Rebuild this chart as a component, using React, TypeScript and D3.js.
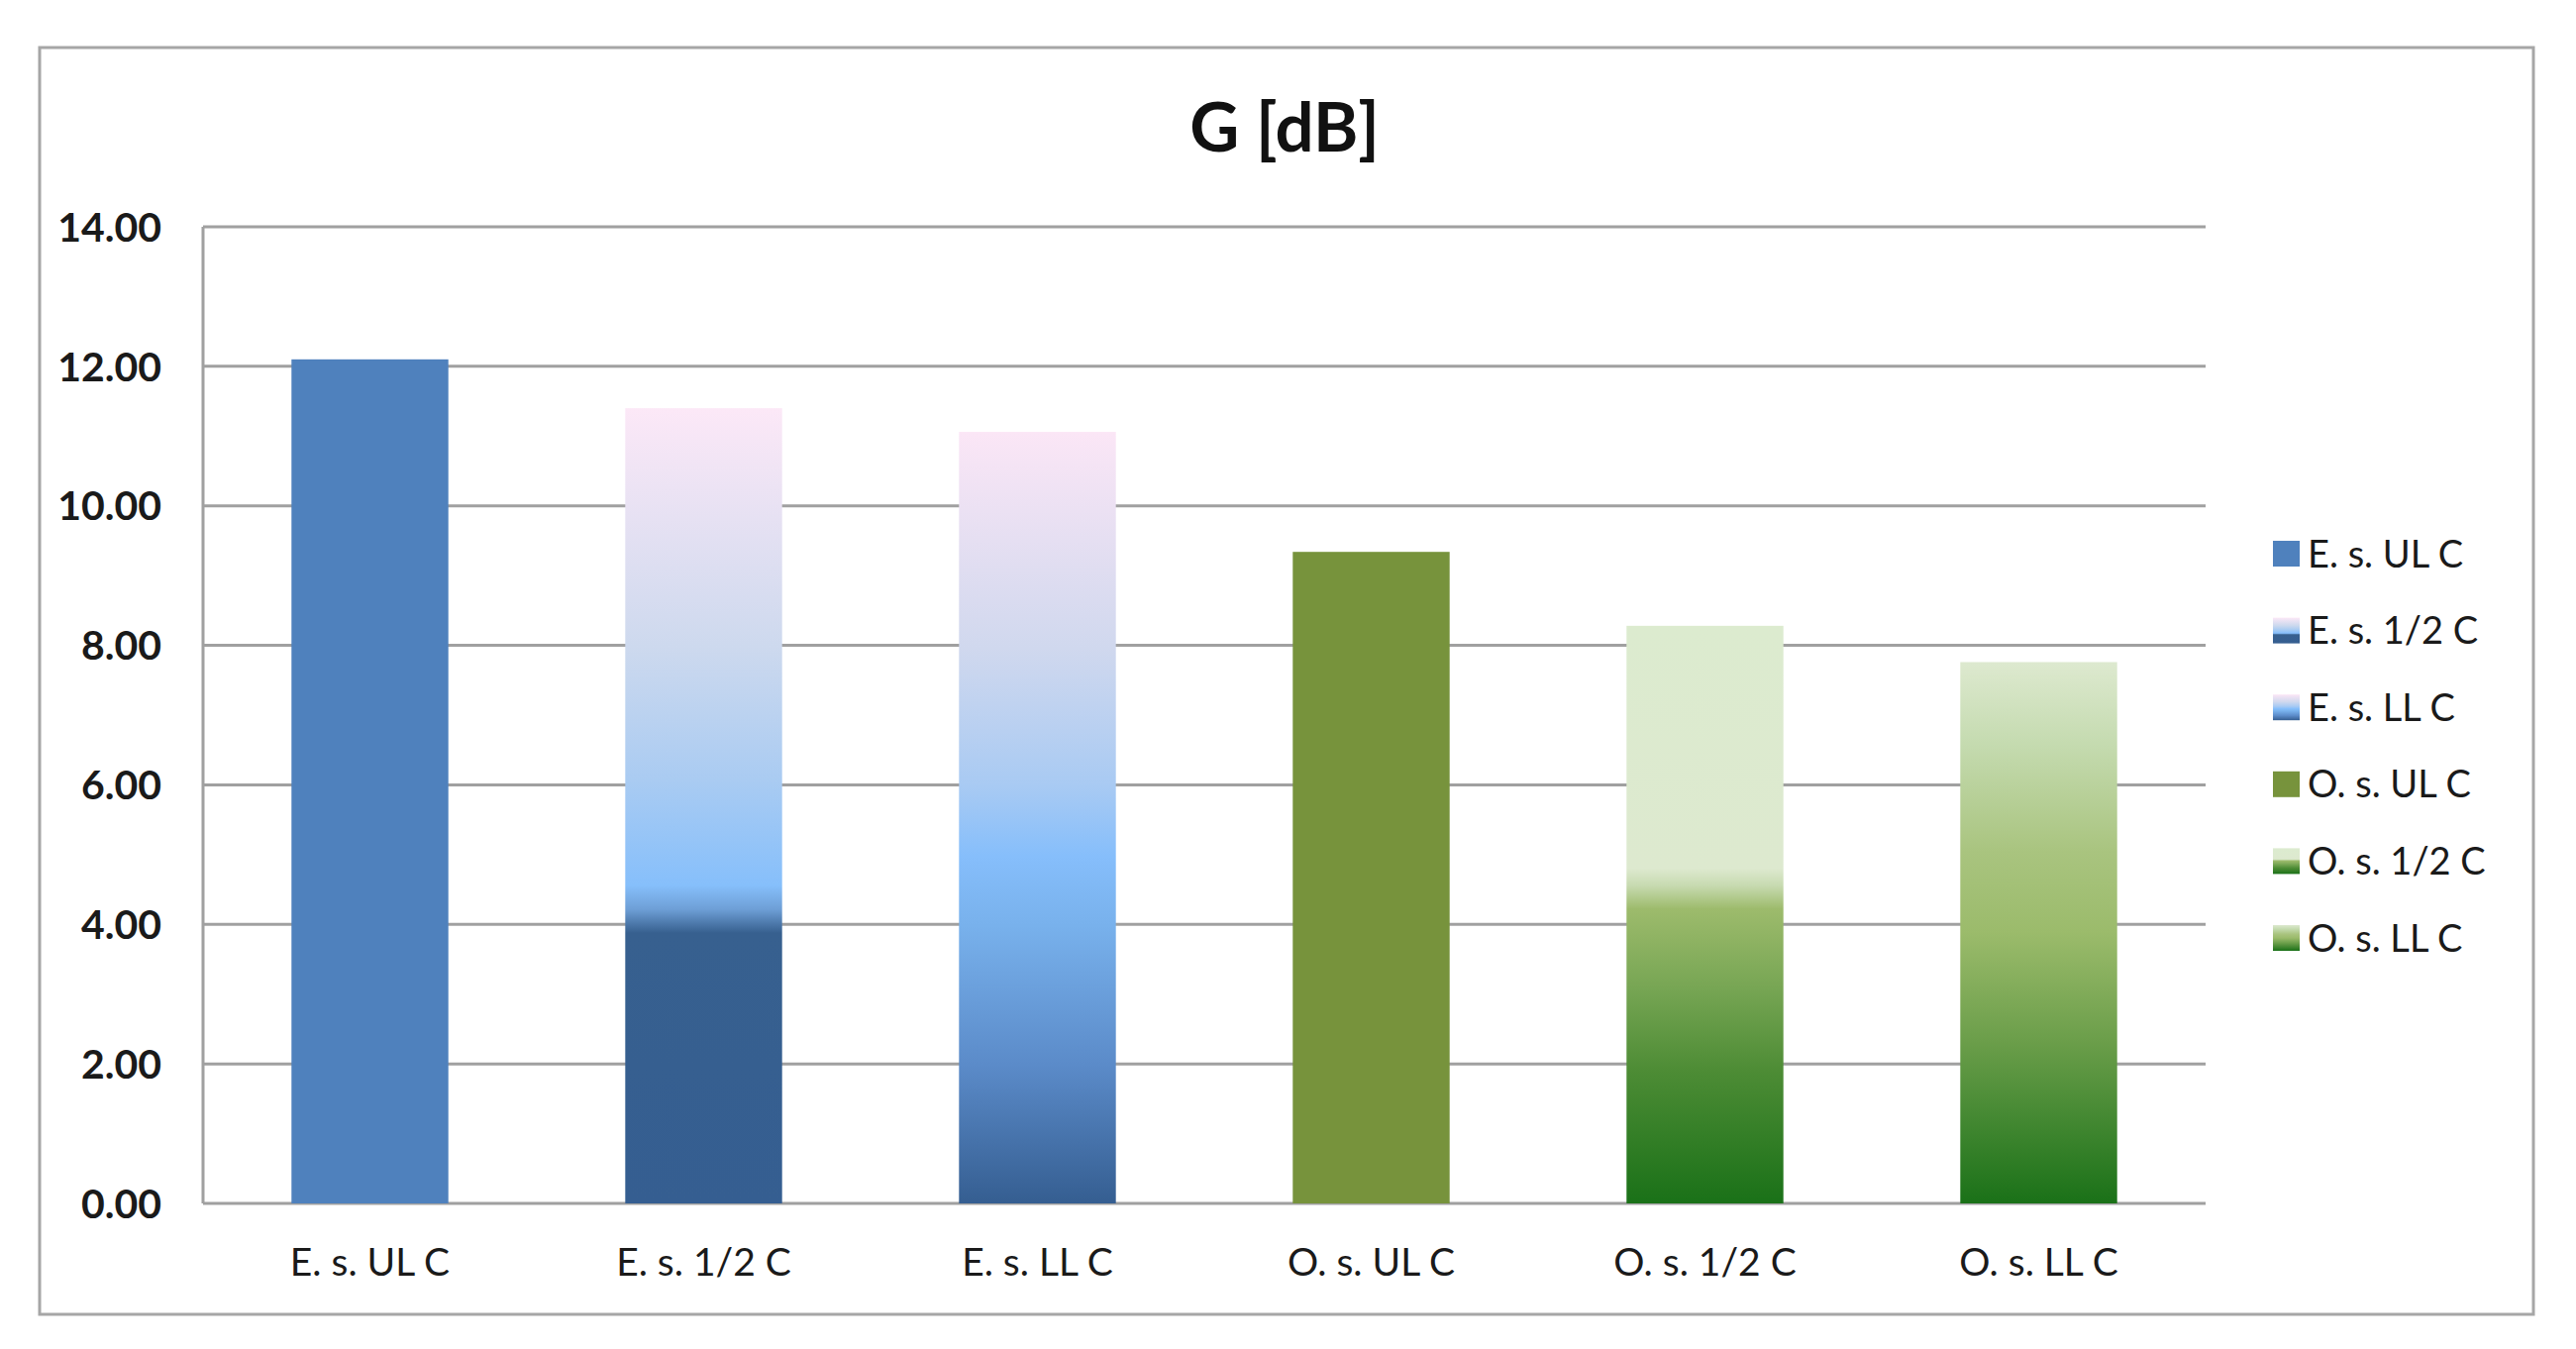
import { useEffect, useRef } from 'react';
import * as d3 from 'd3';

const categories = ['E. s. UL C', 'E. s. 1/2 C', 'E. s. LL C', 'O. s. UL C', 'O. s. 1/2 C', 'O. s. LL C'];
const gainDb = [12.1, 11.4, 11.06, 9.34, 8.28, 7.76];
const yTicks = [0, 2, 4, 6, 8, 10, 12, 14];

// fill per series: [offset, colour] stops, top -> bottom
const fills: [number, string][][] = [
  [[0, '#4f81bd'], [1, '#4f81bd']],
  [[0, '#fce8f7'], [0.3, '#cdd9ee'], [0.47, '#a9cbf2'], [0.6, '#86bffb'], [0.63, '#6e9fd6'], [0.66, '#37608f'], [1, '#355e91']],
  [[0, '#fbe6f6'], [0.28, '#d0d8ee'], [0.46, '#a8caf3'], [0.55, '#86befb'], [0.64, '#78b1ec'], [0.82, '#5b8bc9'], [1, '#355e91']],
  [[0, '#77933c'], [1, '#77933c']],
  [[0, '#dcebcf'], [0.42, '#dde9cf'], [0.45, '#c7dab0'], [0.49, '#9dbb6c'], [0.63, '#76a553'], [0.77, '#4d8c35'], [1, '#1a7118']],
  [[0, '#dde9cf'], [0.15, '#c5dbb0'], [0.35, '#a9c47f'], [0.5, '#9bbb6b'], [0.7, '#6b9e4a'], [1, '#1a7118']],
];

const W = 2601;
const H = 1362;
const FONT = 'Lato, "Open Sans", sans-serif';

export default function App() {
  const svgRef = useRef<SVGSVGElement>(null);

  useEffect(() => {
    if (!svgRef.current) return;
    const svg = d3.select(svgRef.current);
    svg.selectAll('*').remove();

    const plot = { left: 205, right: 2227, top: 229, bottom: 1215 };

    const x = d3.scaleBand<string>()
      .domain(categories)
      .range([plot.left, plot.right])
      .paddingInner(0.53)
      .paddingOuter(0.265);

    const y = d3.scaleLinear().domain([0, 14]).range([plot.bottom, plot.top]);

    const defs = svg.append('defs');
    fills.forEach((stops, i) => {
      const grad = defs.append('linearGradient')
        .attr('id', `fill-${i}`)
        .attr('x1', 0).attr('y1', 0).attr('x2', 0).attr('y2', 1);
      stops.forEach(([o, c]) => {
        grad.append('stop').attr('offset', o).attr('stop-color', c);
      });
    });

    svg.append('rect')
      .attr('width', W).attr('height', H)
      .attr('fill', '#fff');

    // chart border
    svg.append('rect')
      .attr('x', 40).attr('y', 48)
      .attr('width', 2558 - 40).attr('height', 1327 - 48)
      .attr('fill', '#fff')
      .attr('stroke', '#a6a6a6')
      .attr('stroke-width', 3);

    // Title
    svg.append('text')
      .attr('x', 1297)
      .attr('y', 153)
      .attr('text-anchor', 'middle')
      .attr('font-family', FONT)
      .attr('font-size', 69)
      .attr('font-weight', 700)
      .attr('fill', '#111')
      .text('G [dB]');

    // gridlines
    svg.append('g')
      .selectAll('line')
      .data(yTicks)
      .join('line')
      .attr('x1', plot.left)
      .attr('x2', plot.right)
      .attr('y1', d => y(d))
      .attr('y2', d => y(d))
      .attr('stroke', '#a0a0a0')
      .attr('stroke-width', 3);

    // y axis line
    svg.append('line')
      .attr('x1', plot.left).attr('x2', plot.left)
      .attr('y1', plot.top).attr('y2', plot.bottom)
      .attr('stroke', '#a0a0a0')
      .attr('stroke-width', 3);

    // y tick labels
    svg.append('g')
      .selectAll('text')
      .data(yTicks)
      .join('text')
      .attr('x', 163)
      .attr('y', d => y(d))
      .attr('dy', '0.36em')
      .attr('text-anchor', 'end')
      .attr('font-family', FONT)
      .attr('font-size', 41)
      .attr('font-weight', 700)
      .attr('fill', '#1a1a1a')
      .text(d => d3.format('.2f')(d));

    // bars
    svg.append('g')
      .selectAll('rect')
      .data(gainDb)
      .join('rect')
      .attr('x', (_, i) => x(categories[i]) || 0)
      .attr('y', d => y(d))
      .attr('width', x.bandwidth())
      .attr('height', d => y(0) - y(d))
      .attr('fill', (_, i) => `url(#fill-${i})`);

    // x labels
    svg.append('g')
      .selectAll('text')
      .data(categories)
      .join('text')
      .attr('x', d => (x(d) || 0) + x.bandwidth() / 2)
      .attr('y', 1288)
      .attr('text-anchor', 'middle')
      .attr('font-family', FONT)
      .attr('font-size', 39)
      .attr('fill', '#1a1a1a')
      .text(d => d);

    // legend
    const legend = svg.append('g');
    const item = legend.selectAll('g')
      .data(categories)
      .join('g')
      .attr('transform', (_, i) => `translate(2295, ${559 + i * 77.6})`);

    item.append('rect')
      .attr('x', 0).attr('y', -13)
      .attr('width', 27).attr('height', 26)
      .attr('fill', (_, i) => `url(#fill-${i})`);

    item.append('text')
      .attr('x', 35)
      .attr('y', 0)
      .attr('dy', '0.36em')
      .attr('font-family', FONT)
      .attr('font-size', 38)
      .attr('fill', '#1a1a1a')
      .text(d => d);
  }, []);

  return (
    <svg
      ref={svgRef}
      width={W}
      height={H}
      style={{ position: 'absolute', left: 0, top: 0, display: 'block' }}
    />
  );
}
